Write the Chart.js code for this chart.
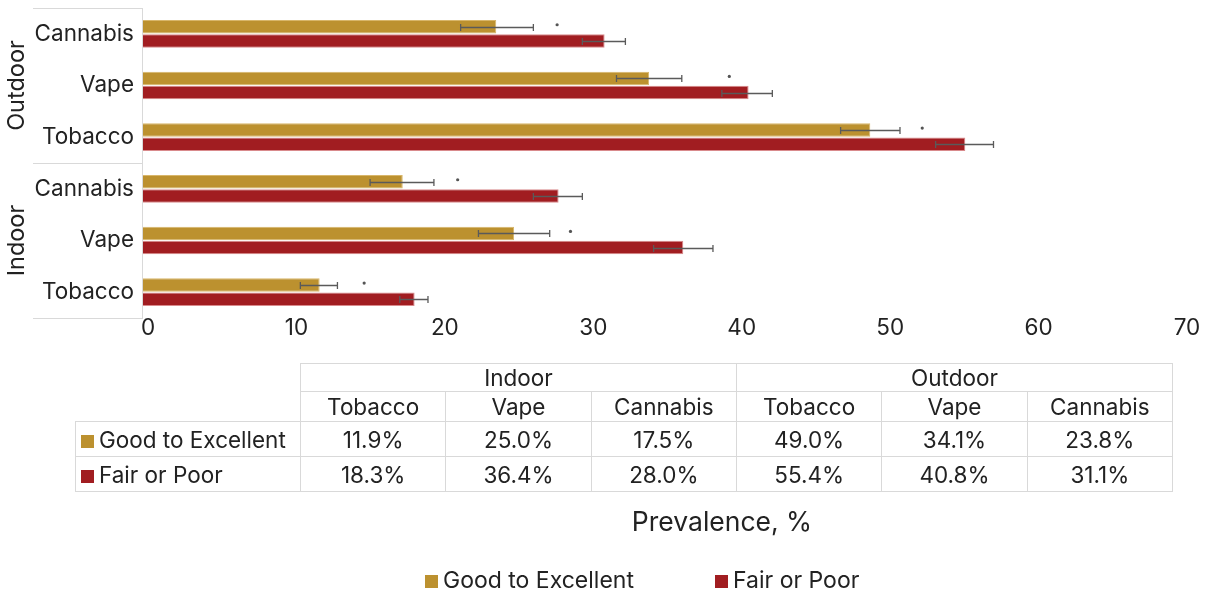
<!DOCTYPE html>
<html>
<head>
<meta charset="utf-8">
<script src="https://cdn.jsdelivr.net/npm/chart.js@4.4.0/dist/chart.umd.min.js"></script>
<style>
  html, body { margin: 0; padding: 0; background: #fff; }
  #wrap { position: relative; width: 1211px; height: 593px; overflow: hidden; font-family: Inter, "Noto Sans", sans-serif; color: #222; }
  #chart { position: absolute; left: 0; top: 0; }
  #table { position: absolute; left: 75px; top: 363px; width: 1098px; border-collapse: collapse; table-layout: fixed; font-size: 22.5px; }
  #table td { border: 1px solid #d9d9d9; text-align: center; padding: 0; white-space: nowrap; }
  #table td.blank { border: none; }
  #table td.name { text-align: left; padding-left: 5px; }
  .sw { display: inline-block; width: 13px; height: 13px; margin-right: 5px; vertical-align: 0px; }
  #xtitle { position: absolute; left: 0; width: 1444px; top: 505px; text-align: center; font-size: 26.5px; }
  #legend { position: absolute; top: 566px; left: 0; font-size: 23px; }
  #legend span.item { position: absolute; white-space: nowrap; }
</style>
</head>
<body>
<div id="wrap">
  <canvas id="chart" width="1211" height="593"></canvas>
  <table id="table"></table>
  <div id="xtitle">Prevalence, %</div>
  <div id="legend"></div>
</div>
<script>
// data in table order: Indoor Tobacco/Vape/Cannabis, Outdoor Tobacco/Vape/Cannabis
const groups = ["Indoor", "Outdoor"];
const items = ["Tobacco", "Vape", "Cannabis"];
const seriesNames = ["Good to Excellent", "Fair or Poor"];
const seriesColors = ["#bc912f", "#a11d21"];
const goodValues = [11.9, 25.0, 17.5, 49.0, 34.1, 23.8];
const fairValues = [18.3, 36.4, 28.0, 55.4, 40.8, 31.1];
const goodLow = [10.6, 22.6, 15.3, 47.0, 31.9, 21.4];
const goodHigh = [13.1, 27.4, 19.6, 51.0, 36.3, 26.3];
const fairLow = [17.3, 34.4, 26.3, 53.4, 39.0, 29.6];
const fairHigh = [19.2, 38.4, 29.6, 57.3, 42.4, 32.5];
const starAt = [14.9, 28.8, 21.2, 52.5, 39.5, 27.9];
const xMin = 0, xMax = 70, xStep = 10;

const FONT = "Inter, 'Noto Sans', sans-serif";

// chart lists categories top to bottom, so reverse the table order
const rev = (arr) => arr.slice().reverse();
const catLabels = [];
groups.forEach((g) => items.forEach((it) => catLabels.push(it)));

// table
function buildTable() {
  const t = document.getElementById("table");
  let html = '<colgroup><col style="width:225px">';
  for (let i = 0; i < 6; i++) html += '<col>';
  html += '</colgroup>';
  html += '<tr style="height:27px"><td class="blank"></td>';
  groups.forEach((g) => (html += `<td colspan="3">${g}</td>`));
  html += '</tr><tr style="height:30px"><td class="blank"></td>';
  catLabels.forEach((c) => (html += `<td>${c}</td>`));
  html += '</tr>';
  [goodValues, fairValues].forEach((vals, s) => {
    html += `<tr style="height:35px"><td class="name"><span class="sw" style="background:${seriesColors[s]}"></span>${seriesNames[s]}</td>`;
    vals.forEach((v) => (html += `<td>${v.toFixed(1)}%</td>`));
    html += '</tr>';
  });
  t.innerHTML = html;
}
buildTable();

// legend
const legend = document.getElementById("legend");
const legendLeft = [425, 715];
seriesNames.forEach((n, i) => {
  const s = document.createElement("span");
  s.className = "item";
  s.style.left = legendLeft[i] + "px";
  s.innerHTML = `<span class="sw" style="background:${seriesColors[i]};margin-right:5px"></span>${n}`;
  legend.appendChild(s);
});

const errorBars = {
  id: "errorBars",
  afterDatasetsDraw(chart) {
    const ctx = chart.ctx;
    const x = chart.scales.x;
    const lows = [rev(goodLow), rev(fairLow)];
    const highs = [rev(goodHigh), rev(fairHigh)];
    ctx.save();
    ctx.strokeStyle = "#5a5a5a";
    ctx.lineWidth = 1.3;
    [0, 1].forEach((d) => {
      const meta = chart.getDatasetMeta(d);
      meta.data.forEach((bar, j) => {
        const x1 = x.getPixelForValue(lows[d][j]);
        const x2 = x.getPixelForValue(highs[d][j]);
        const y = Math.round(bar.y) + 0.5;
        ctx.beginPath();
        ctx.moveTo(x1, y);
        ctx.lineTo(x2, y);
        ctx.moveTo(x1, y - 3.5);
        ctx.lineTo(x1, y + 3.5);
        ctx.moveTo(x2, y - 3.5);
        ctx.lineTo(x2, y + 3.5);
        ctx.stroke();
      });
    });
    // significance marks
    const stars = rev(starAt);
    ctx.fillStyle = "#555";
    chart.getDatasetMeta(0).data.forEach((bar, j) => {
      ctx.beginPath();
      ctx.arc(x.getPixelForValue(stars[j]), bar.y - 2, 1.6, 0, Math.PI * 2);
      ctx.fill();
    });
    ctx.restore();
  },
};

const groupAxis = {
  id: "groupAxis",
  afterDraw(chart) {
    const ctx = chart.ctx;
    const a = chart.chartArea;
    const y = chart.scales.y;
    const mid = (y.getPixelForValue(2) + y.getPixelForValue(3)) / 2;
    ctx.save();
    ctx.strokeStyle = "#d9d9d9";
    ctx.lineWidth = 1;
    ctx.beginPath();
    ctx.moveTo(a.left - 0.5, a.top);
    ctx.lineTo(a.left - 0.5, a.bottom);
    [a.top, mid, a.bottom].forEach((yy) => {
      ctx.moveTo(33, Math.round(yy) + 0.5);
      ctx.lineTo(a.left, Math.round(yy) + 0.5);
    });
    ctx.stroke();
    ctx.fillStyle = "#222";
    ctx.font = "23.5px " + FONT;
    ctx.textAlign = "center";
    ctx.textBaseline = "middle";
    const revGroups = rev(groups);
    revGroups.forEach((g, i) => {
      ctx.save();
      ctx.translate(17, y.getPixelForValue(i * 3 + 1));
      ctx.rotate(-Math.PI / 2);
      ctx.fillText(g, 0, 0);
      ctx.restore();
    });
    ctx.restore();
  },
};

new Chart(document.getElementById("chart"), {
  type: "bar",
  data: {
    labels: rev(catLabels),
    datasets: [
      {
        label: seriesNames[0],
        data: rev(goodValues),
        backgroundColor: seriesColors[0],
        borderColor: "#d8b66a",
        borderWidth: 1,
        categoryPercentage: 0.55,
        barPercentage: 0.95,
      },
      {
        label: seriesNames[1],
        data: rev(fairValues),
        backgroundColor: seriesColors[1],
        borderColor: "#d98a8c",
        borderWidth: 1,
        categoryPercentage: 0.55,
        barPercentage: 0.95,
      },
    ],
  },
  options: {
    indexAxis: "y",
    responsive: false,
    animation: false,
    layout: { padding: { top: 8, right: 29, left: 0, bottom: 0 } },
    plugins: { legend: { display: false }, tooltip: { enabled: false } },
    scales: {
      x: {
        min: xMin,
        max: xMax,
        grid: { display: false, drawTicks: false },
        border: { display: false },
        ticks: {
          stepSize: xStep,
          padding: -3,
          labelOffset: 5,
          color: "#222",
          font: { family: FONT, size: 22.5 },
        },
        afterFit: (s) => {
          s.height = 275;
          s.paddingLeft = 0;
          s.paddingRight = 0;
        },
      },
      y: {
        grid: { display: false, drawTicks: false },
        border: { display: false },
        ticks: {
          padding: 9,
          color: "#222",
          font: { family: FONT, size: 22.5 },
        },
        afterFit: (s) => {
          s.width = 143;
          s.paddingTop = 0;
          s.paddingBottom = 0;
        },
      },
    },
  },
  plugins: [errorBars, groupAxis],
});
</script>
</body>
</html>
